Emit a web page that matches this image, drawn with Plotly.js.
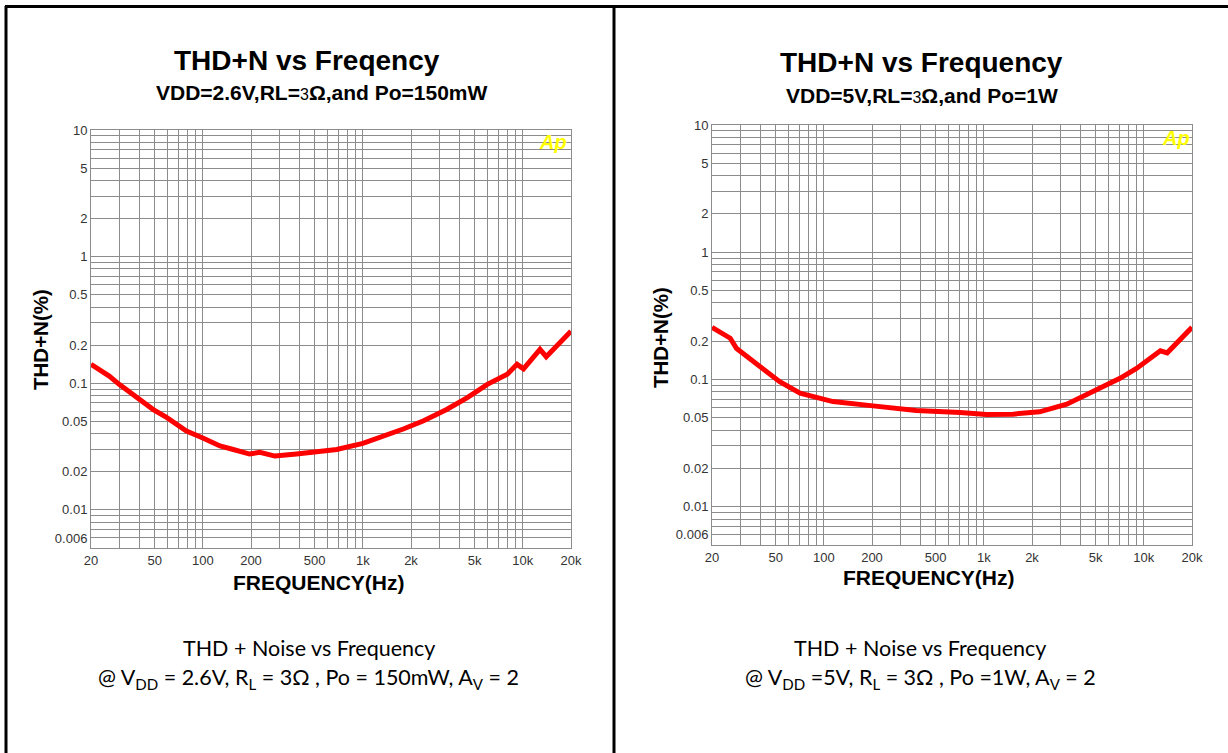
<!DOCTYPE html>
<html>
<head>
<meta charset="utf-8">
<script src="https://cdn.plot.ly/plotly-3.0.1.min.js"></script>
<style>html,body{margin:0;padding:0;background:#fff;}#chart{width:1228px;height:753px;}</style>
</head>
<body>
<div id="chart"></div>
<script>
// ---- Data ----
const freqLeft = [20, 26, 30, 40, 49, 59, 79, 100, 128, 155, 196, 227, 282, 385, 512, 687, 1000, 1340, 1790, 2400, 3340, 4500, 6000, 8000, 9200, 10100, 12800, 14000, 20000];
const thdLeft  = [0.141, 0.114, 0.098, 0.075, 0.062, 0.054, 0.042, 0.037, 0.032, 0.030, 0.0276, 0.0285, 0.0266, 0.0276, 0.0285, 0.030, 0.0335, 0.038, 0.0435, 0.0505, 0.062, 0.077, 0.098, 0.118, 0.141, 0.130, 0.185, 0.162, 0.258];

const freqRight = [20, 26, 28.5, 40, 53, 71, 114, 203, 378, 711, 1040, 1520, 2230, 3300, 4860, 7100, 9000, 11000, 12700, 14000, 16900, 20000];
const thdRight  = [0.257, 0.211, 0.175, 0.126, 0.096, 0.078, 0.067, 0.062, 0.057, 0.055, 0.053, 0.0534, 0.0557, 0.064, 0.080, 0.102, 0.122, 0.147, 0.168, 0.162, 0.204, 0.257];

// labelled ticks
const xTickVals = [20, 50, 100, 200, 500, 1000, 2000, 5000, 10000, 20000];
const xTickLabels = ["20", "50", "100", "200", "500", "1k", "2k", "5k", "10k", "20k"];
const yTickVals = [0.006, 0.01, 0.02, 0.05, 0.1, 0.2, 0.5, 1, 2, 5, 10];
const yTickLabels = ["0.006", "0.01", "0.02", "0.05", "0.1", "0.2", "0.5", "1", "2", "5", "10"];
// unlabelled grid lines
const xMinorVals = [30, 40, 60, 70, 80, 90, 300, 400, 600, 700, 800, 900, 3000, 4000, 6000, 7000, 8000, 9000];
const yMinorVals = [0.007, 0.008, 0.009, 0.03, 0.04, 0.06, 0.07, 0.08, 0.09, 0.3, 0.4, 0.6, 0.7, 0.8, 0.9, 3, 4, 6, 7, 8, 9];

const W = 1228, H = 753;
const px = v => v / W;
const py = v => 1 - v / H;
const gridCol = '#8c8c8c';
const tickFont = {family: 'Liberation Sans, Arial, sans-serif', size: 13, color: '#333'};

function xAxis(d0, d1, anchor) {
  return {
    type: 'log', range: [Math.log10(20), Math.log10(20000)], domain: [px(d0), px(d1)], anchor: anchor,
    tickmode: 'array', tickvals: xTickVals, ticktext: xTickLabels, ticks: '',
    showgrid: true, gridcolor: gridCol, gridwidth: 1, zeroline: false,
    minor: {tickmode: 'array', tickvals: xMinorVals, showgrid: true, gridcolor: gridCol, gridwidth: 1, ticks: ''},
    showline: true, mirror: true, linecolor: gridCol, linewidth: 1,
    tickfont: tickFont, fixedrange: true
  };
}
function yAxis(d0, d1, anchor) {
  return {
    type: 'log', range: [Math.log10(0.005), Math.log10(10)], domain: [py(d1), py(d0)], anchor: anchor,
    tickmode: 'array', tickvals: yTickVals, ticktext: yTickLabels, ticks: '',
    showgrid: true, gridcolor: gridCol, gridwidth: 1, zeroline: false,
    minor: {tickmode: 'array', tickvals: yMinorVals, showgrid: true, gridcolor: gridCol, gridwidth: 1, ticks: ''},
    showline: true, mirror: true, linecolor: gridCol, linewidth: 1,
    tickfont: tickFont, fixedrange: true
  };
}

const traces = [
  {x: freqLeft, y: thdLeft, xaxis: 'x', yaxis: 'y', mode: 'lines', line: {color: '#ff0000', width: 5}, hoverinfo: 'x+y', showlegend: false},
  {x: freqRight, y: thdRight, xaxis: 'x2', yaxis: 'y2', mode: 'lines', line: {color: '#ff0000', width: 5}, hoverinfo: 'x+y', showlegend: false}
];

const bold = 'Liberation Sans, Arial, sans-serif';
const cap = 'Lato, Open Sans, sans-serif';
function ann(text, x, y, size, opts) {
  return Object.assign({text: text, x: px(x), y: py(y), xref: 'paper', yref: 'paper', showarrow: false,
    xanchor: 'center', yanchor: 'middle', font: {family: bold, size: size, color: '#000'}}, opts || {});
}
const capFont = {family: cap, size: 21.5, color: '#000'};

const annotations = [
  ann('<b>THD+N vs Freqency</b>', 307, 60, 28),
  ann('<b>VDD=2.6V,RL=</b><span style="font-size:16px">3</span><b>Ω,and Po=150mW</b>', 322, 92, 21),
  ann('<b>THD+N vs Frequency</b>', 921, 62, 28),
  ann('<b>VDD=5V,RL=</b><span style="font-size:16px">3</span><b>Ω,and Po=1W</b>', 922, 95, 21),
  ann('<b>FREQUENCY(Hz)</b>', 319, 582, 21),
  ann('<b>FREQUENCY(Hz)</b>', 929, 577, 21),
  ann('<b>THD+N(%)</b>', 40, 340, 20.5, {textangle: -90}),
  ann('<b>THD+N(%)</b>', 660, 338, 20.5, {textangle: -90}),
  ann('<b><i>Ap</i></b>', 553, 142, 20, {font: {family: bold, size: 20, color: '#ffff00'}}),
  ann('<b><i>Ap</i></b>', 1176, 138, 20, {font: {family: bold, size: 20, color: '#ffff00'}}),
  ann('THD + Noise vs Frequency', 309, 648, 21.5, {font: capFont}),
  ann('@ V<sub>DD</sub> = 2.6V, R<sub>L</sub> = 3Ω , Po = 150mW, A<sub>V</sub> = 2', 308, 678, 21.5, {font: capFont}),
  ann('THD + Noise vs Frequency', 920, 648, 21.5, {font: capFont}),
  ann('@ V<sub>DD</sub> =5V, R<sub>L</sub> = 3Ω , Po =1W, A<sub>V</sub> = 2', 920, 678, 21.5, {font: capFont})
];

const frame = {color: '#000', width: 3};
const shapes = [
  {type: 'line', xref: 'paper', yref: 'paper', x0: px(6), x1: px(6), y0: py(6), y1: 0, line: frame},
  {type: 'line', xref: 'paper', yref: 'paper', x0: px(5), x1: 1, y0: py(6.5), y1: py(6.5), line: frame},
  {type: 'line', xref: 'paper', yref: 'paper', x0: px(614), x1: px(614), y0: py(6), y1: 0, line: frame}
];

const layout = {
  width: W, height: H, margin: {l: 0, r: 0, t: 0, b: 0},
  paper_bgcolor: '#fff', plot_bgcolor: '#fff', showlegend: false,
  xaxis: xAxis(91, 571, 'y'), yaxis: yAxis(130, 548, 'x'),
  xaxis2: xAxis(712, 1192, 'y2'), yaxis2: yAxis(125, 545, 'x2'),
  annotations: annotations, shapes: shapes
};

Plotly.newPlot('chart', traces, layout, {displayModeBar: false, staticPlot: true});
</script>
</body>
</html>
